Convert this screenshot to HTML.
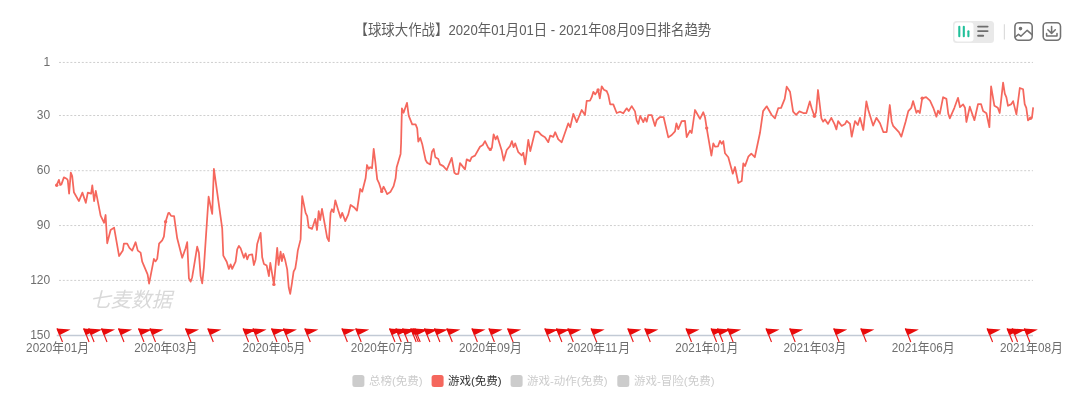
<!DOCTYPE html>
<html lang="zh-CN">
<head>
<meta charset="utf-8">
<title>排名趋势</title>
<style>
html,body{margin:0;padding:0;background:#fff;}
body{width:1080px;height:407px;overflow:hidden;font-family:"Liberation Sans","Noto Sans CJK SC",sans-serif;}
svg{display:block;will-change:transform;}
svg text{font-family:"Liberation Sans","Noto Sans CJK SC",sans-serif;white-space:pre;}
</style>
</head>
<body>
<svg width="1080" height="407" viewBox="0 0 1080 407" role="img" aria-label="排名趋势图表">
<rect width="1080" height="407" fill="#ffffff"/>
<line x1="59" y1="62.45" x2="1033.0" y2="62.45" stroke="#cfcfcf" stroke-width="1" stroke-dasharray="2 1.8"/>
<line x1="59" y1="115.5" x2="1033.0" y2="115.5" stroke="#cfcfcf" stroke-width="1" stroke-dasharray="2 1.8"/>
<line x1="59" y1="170.7" x2="1033.0" y2="170.7" stroke="#cfcfcf" stroke-width="1" stroke-dasharray="2 1.8"/>
<line x1="59" y1="225.55" x2="1033.0" y2="225.55" stroke="#cfcfcf" stroke-width="1" stroke-dasharray="2 1.8"/>
<line x1="59" y1="280.4" x2="1033.0" y2="280.4" stroke="#cfcfcf" stroke-width="1" stroke-dasharray="2 1.8"/>
<line x1="56.7" y1="335.5" x2="1033.0" y2="335.5" stroke="#c2cad5" stroke-width="1.3"/>
<g aria-label="1"><text transform="translate(43.48 65.95) scale(1 1.07)" font-size="12.0" fill="#6e6e6e">1</text></g>
<g aria-label="30"><text transform="translate(36.80 119.00) scale(1 1.07)" font-size="12.0" fill="#6e6e6e">30</text></g>
<g aria-label="60"><text transform="translate(36.80 174.20) scale(1 1.07)" font-size="12.0" fill="#6e6e6e">60</text></g>
<g aria-label="90"><text transform="translate(36.80 229.05) scale(1 1.07)" font-size="12.0" fill="#6e6e6e">90</text></g>
<g aria-label="120"><text transform="translate(30.13 283.90) scale(1 1.07)" font-size="12.0" fill="#6e6e6e">120</text></g>
<g aria-label="150"><text transform="translate(30.13 339.00) scale(1 1.07)" font-size="12.0" fill="#6e6e6e">150</text></g>
<g aria-label="2020年01月"><text transform="translate(26.10 351.50) scale(1 1.08)" font-size="11.75" fill="#6e6e6e">2020</text><text transform="translate(64.13 351.50) scale(1 1.08)" font-size="11.75" fill="#6e6e6e">01</text><text transform="translate(52.24 351.50) scale(1 1.08)" font-size="11.89" fill="#6e6e6e">年</text><text transform="translate(77.20 351.50) scale(1 1.08)" font-size="11.89" fill="#6e6e6e">月</text></g>
<g aria-label="2020年03月"><text transform="translate(134.30 351.50) scale(1 1.08)" font-size="11.75" fill="#6e6e6e">2020</text><text transform="translate(172.33 351.50) scale(1 1.08)" font-size="11.75" fill="#6e6e6e">03</text><text transform="translate(160.44 351.50) scale(1 1.08)" font-size="11.89" fill="#6e6e6e">年</text><text transform="translate(185.40 351.50) scale(1 1.08)" font-size="11.89" fill="#6e6e6e">月</text></g>
<g aria-label="2020年05月"><text transform="translate(242.50 351.50) scale(1 1.08)" font-size="11.75" fill="#6e6e6e">2020</text><text transform="translate(280.53 351.50) scale(1 1.08)" font-size="11.75" fill="#6e6e6e">05</text><text transform="translate(268.64 351.50) scale(1 1.08)" font-size="11.89" fill="#6e6e6e">年</text><text transform="translate(293.60 351.50) scale(1 1.08)" font-size="11.89" fill="#6e6e6e">月</text></g>
<g aria-label="2020年07月"><text transform="translate(350.70 351.50) scale(1 1.08)" font-size="11.75" fill="#6e6e6e">2020</text><text transform="translate(388.73 351.50) scale(1 1.08)" font-size="11.75" fill="#6e6e6e">07</text><text transform="translate(376.84 351.50) scale(1 1.08)" font-size="11.89" fill="#6e6e6e">年</text><text transform="translate(401.80 351.50) scale(1 1.08)" font-size="11.89" fill="#6e6e6e">月</text></g>
<g aria-label="2020年09月"><text transform="translate(458.90 351.50) scale(1 1.08)" font-size="11.75" fill="#6e6e6e">2020</text><text transform="translate(496.93 351.50) scale(1 1.08)" font-size="11.75" fill="#6e6e6e">09</text><text transform="translate(485.04 351.50) scale(1 1.08)" font-size="11.89" fill="#6e6e6e">年</text><text transform="translate(510.00 351.50) scale(1 1.08)" font-size="11.89" fill="#6e6e6e">月</text></g>
<g aria-label="2020年11月"><text transform="translate(567.10 351.50) scale(1 1.08)" font-size="11.75" fill="#6e6e6e">2020</text><text transform="translate(605.13 351.50) scale(1 1.08)" font-size="11.75" fill="#6e6e6e">11</text><text transform="translate(593.24 351.50) scale(1 1.08)" font-size="11.89" fill="#6e6e6e">年</text><text transform="translate(618.20 351.50) scale(1 1.08)" font-size="11.89" fill="#6e6e6e">月</text></g>
<g aria-label="2021年01月"><text transform="translate(675.30 351.50) scale(1 1.08)" font-size="11.75" fill="#6e6e6e">2021</text><text transform="translate(713.33 351.50) scale(1 1.08)" font-size="11.75" fill="#6e6e6e">01</text><text transform="translate(701.44 351.50) scale(1 1.08)" font-size="11.89" fill="#6e6e6e">年</text><text transform="translate(726.40 351.50) scale(1 1.08)" font-size="11.89" fill="#6e6e6e">月</text></g>
<g aria-label="2021年03月"><text transform="translate(783.50 351.50) scale(1 1.08)" font-size="11.75" fill="#6e6e6e">2021</text><text transform="translate(821.53 351.50) scale(1 1.08)" font-size="11.75" fill="#6e6e6e">03</text><text transform="translate(809.64 351.50) scale(1 1.08)" font-size="11.89" fill="#6e6e6e">年</text><text transform="translate(834.60 351.50) scale(1 1.08)" font-size="11.89" fill="#6e6e6e">月</text></g>
<g aria-label="2021年06月"><text transform="translate(891.70 351.50) scale(1 1.08)" font-size="11.75" fill="#6e6e6e">2021</text><text transform="translate(929.73 351.50) scale(1 1.08)" font-size="11.75" fill="#6e6e6e">06</text><text transform="translate(917.84 351.50) scale(1 1.08)" font-size="11.89" fill="#6e6e6e">年</text><text transform="translate(942.80 351.50) scale(1 1.08)" font-size="11.89" fill="#6e6e6e">月</text></g>
<g aria-label="2021年08月"><text transform="translate(999.90 351.50) scale(1 1.08)" font-size="11.75" fill="#6e6e6e">2021</text><text transform="translate(1037.93 351.50) scale(1 1.08)" font-size="11.75" fill="#6e6e6e">08</text><text transform="translate(1026.04 351.50) scale(1 1.08)" font-size="11.89" fill="#6e6e6e">年</text><text transform="translate(1051.00 351.50) scale(1 1.08)" font-size="11.89" fill="#6e6e6e">月</text></g>
<g aria-label="【球球大作战】2020年01月01日 - 2021年08月09日排名趋势"><text transform="translate(448.50 34.70) scale(1 1.08)" font-size="13.15" fill="#5e5e5e">2020</text><text transform="translate(491.15 34.70) scale(1 1.08)" font-size="13.15" fill="#5e5e5e">01</text><text transform="translate(519.18 34.70) scale(1 1.08)" font-size="13.15" fill="#5e5e5e">01</text><text transform="translate(547.21 34.70) scale(1 1.08)" font-size="13.15" fill="#5e5e5e"> - 2021</text><text transform="translate(601.55 34.70) scale(1 1.08)" font-size="13.15" fill="#5e5e5e">08</text><text transform="translate(629.57 34.70) scale(1 1.08)" font-size="13.15" fill="#5e5e5e">09</text><text transform="translate(448.30 34.70) scale(1 1.08)" font-size="13.4" fill="#5e5e5e" text-anchor="end">【球球大作战】</text><text transform="translate(477.75 34.70) scale(1 1.08)" font-size="13.4" fill="#5e5e5e">年</text><text transform="translate(505.78 34.70) scale(1 1.08)" font-size="13.4" fill="#5e5e5e">月</text><text transform="translate(533.81 34.70) scale(1 1.08)" font-size="13.4" fill="#5e5e5e">日</text><text transform="translate(588.15 34.70) scale(1 1.08)" font-size="13.4" fill="#5e5e5e">年</text><text transform="translate(616.18 34.70) scale(1 1.08)" font-size="13.4" fill="#5e5e5e">月</text><text transform="translate(644.20 34.70) scale(1 1.08)" font-size="13.4" fill="#5e5e5e">日</text><text transform="translate(657.60 34.70) scale(1 1.08)" font-size="13.4" fill="#5e5e5e">排名趋势</text></g>
<g aria-label="七麦数据"><text x="90" y="307" font-size="20.5" font-style="italic" fill="#d9d9d9">七麦数据</text></g>
<path d="M56.7 185.2 L58.9 179.8 L60.2 185 L61.4 184.4 L63.9 177.4 L66.7 178.7 L67.8 180.3 L69.1 193.7 L70.8 172.6 L72.2 176.1 L73.9 192.2 L78.9 201.1 L82.4 192.6 L85.8 202.8 L87.8 192.6 L91.1 193.7 L92.3 185.3 L94.1 201.1 L95.8 190.8 L100.6 215.6 L104.1 222.8 L105.6 215 L107.2 243.3 L110.6 230 L114.1 227.6 L119.1 256.1 L122.8 250.6 L123.9 243.7 L127.2 243.7 L129.4 247.8 L132.2 250.6 L135.6 242.2 L137.8 250.6 L140.6 252.6 L142.2 261.7 L147.6 274.4 L149.1 283.7 L153.9 258.9 L155.6 261.4 L157.2 258.9 L159.1 243.7 L162.2 240.3 L163.9 236.7 L165.6 221.7 L168.3 213 L169.1 212.8 L171.1 215.9 L174.1 216.1 L177.2 238.3 L182.2 257.8 L185.6 248.3 L187.2 242.2 L188.9 278.3 L190.6 281.7 L192.2 277.2 L197.2 246.7 L198.9 252.8 L200.6 276.1 L202.2 283.3 L203.9 267.2 L208.6 196.7 L212.2 213.9 L213.9 168.9 L222.2 228.3 L223.3 255.6 L226.7 261.7 L228.9 268.9 L230.6 264.4 L232.2 268.9 L235.6 261.7 L237.2 249.4 L238.9 245.9 L240.6 248.3 L243.9 257.8 L245.6 253.3 L247.2 259.4 L248.9 255 L252.2 254.4 L253.9 265 L255.6 259.4 L257.2 243.9 L260.6 232.8 L262.2 257.2 L263.9 263.9 L266.7 265.6 L268.9 276.1 L270.3 262.8 L273.9 284.4 L277.2 247.8 L278.6 265 L280.6 251.7 L281.9 261.1 L283.3 253.9 L285 259.4 L287.2 269.4 L288.7 287.2 L290.2 293.9 L292 282.8 L293.6 271.7 L295.3 268.3 L296.7 259.4 L297.8 250.6 L300.6 239.4 L301.3 217.2 L302.2 196.1 L305.6 212.8 L307.2 216.1 L308.7 227.4 L312 228.9 L315.3 218.9 L317 230 L318.7 211.1 L320.2 220 L322 208.9 L325 225.6 L327.2 237.8 L328.9 241.1 L330.6 212.8 L331.9 209.2 L333.6 212.2 L335.3 200.3 L338.3 210.6 L340.6 217.8 L342.2 212.8 L345.3 221.1 L348.3 214.4 L350.6 205 L353.9 207.2 L357 210.6 L360.2 188.9 L362.2 191.7 L365.6 178.3 L367 165 L368.7 168.9 L370.2 167.2 L372 168.3 L373.7 148.9 L375.3 161.7 L377.2 179.4 L378.9 182.8 L381.7 191.4 L383.6 186.7 L387.2 194.1 L390.6 191.7 L393.6 186.1 L395.6 178.3 L396.7 167.2 L400.6 153.9 L401.1 142.8 L401.9 108.3 L403.6 112.8 L407 102.8 L408.7 115.6 L412.2 124.4 L415.6 124.4 L417.2 128.3 L418.3 141.7 L420.2 137.8 L422.2 143.9 L425.6 160 L427.2 162.8 L430.2 164.4 L432 151.7 L433.7 148.9 L435.3 157.2 L438.3 158.9 L440 164.4 L443.3 166.1 L446.7 170 L451.7 157.8 L454.4 172.8 L456.1 174.1 L458.3 173.9 L460 163.1 L465 169.4 L466.7 159.4 L470 161.1 L471.7 157.2 L475 155.6 L480 146.7 L482.8 145 L485 141.1 L488.3 147.8 L490.3 149.4 L491.9 147.8 L493.6 134.4 L495.6 139.4 L497.2 136.1 L501.7 150.6 L503.7 160.6 L506.7 150 L510 146.1 L511.9 141.1 L513.6 147.2 L515.2 143.3 L518.3 152.2 L521.7 155.3 L523.3 152.8 L525.2 164.4 L528.3 139.8 L530.3 151.1 L535 131.7 L538.3 131.7 L541.7 135.3 L545 137.2 L548.3 142.2 L550.2 135.6 L553.3 136.9 L555.2 132.2 L558.3 139.4 L561.7 142.2 L568.3 123.3 L570.2 127.2 L573.3 113.9 L576.7 122.2 L581.7 110 L585 115 L586.7 100.8 L590 100.6 L591.7 97.2 L593.3 91.9 L595.3 94.4 L598.1 90 L599.8 98.3 L601.7 86.3 L603.9 89.7 L606.7 91.1 L608.3 95 L610.2 104.4 L613.3 104.4 L616.7 113 L620 111.7 L623.3 113.3 L626.7 108.3 L628.7 111.1 L631.7 106.1 L635 111.4 L636.7 120.6 L638.3 123.9 L640.2 115.9 L643.3 122.2 L645 117.8 L646.7 121.7 L648.3 115 L651.7 115 L655 125.9 L656.7 120 L660 117 L663.6 117 L668.3 137.4 L671.7 135 L675 131.4 L676.4 123.3 L678.3 129.2 L681.7 121.1 L685 120.8 L686.7 137.2 L690 130.6 L691.7 133 L695 110 L700 118.9 L703.3 112.2 L705 117.2 L706.7 128.1 L711.4 155.6 L713.3 143.3 L715 146.7 L718 146.3 L720 140.8 L721.7 143.9 L723.3 141.1 L725 153.3 L728.3 157.2 L732.8 173.7 L735 167 L738.3 183 L741.7 181.1 L743.3 163.3 L745 166.1 L748.3 156.7 L751.3 153.7 L754.8 157.2 L760 132.8 L763.1 111.1 L766.7 106.3 L771.7 115 L775 118.3 L778.3 108.1 L781.1 107.8 L784.7 98.9 L786.7 86.7 L790 91.7 L793.1 111.7 L796.1 114.8 L799.4 111.4 L803.3 113 L806.4 113 L809.8 101.4 L811.7 108.3 L814.4 116.3 L816.1 112.2 L818 90 L821.4 118.3 L823.1 121.7 L825 119.4 L828 123.9 L831.3 117.8 L834.4 123.9 L836.4 129.4 L838.1 121.1 L841.7 125.9 L845 124.1 L846.7 120.8 L850 123.9 L851.7 136.7 L855 121.1 L857.8 125 L860 117.8 L863.3 130 L866.4 101.4 L868.3 110 L873.1 125.6 L876.4 117.8 L880 123.3 L883.3 132 L886.7 132 L889.8 105 L891.7 121.7 L893.1 125.8 L898.9 132.2 L901.3 136.7 L905.6 121.7 L908.3 111.1 L911.3 107.8 L913.1 101.1 L916.4 112.8 L918 110.6 L919.8 113.1 L922.2 98.3 L926.1 97.2 L930 100.6 L933.3 107.8 L936.4 116.7 L938 110.6 L939.8 113.9 L943.1 97.2 L946.4 98.9 L948.3 113.9 L949.8 118.3 L954.4 107.8 L958 97.8 L960 107.2 L963.1 104.4 L965 107.8 L966.4 122 L969.8 106.7 L974.4 120.2 L978 104.2 L981.1 104.2 L983.1 111.1 L986.4 113.3 L989.4 127.2 L991.1 86.3 L994.4 105.8 L997.8 107.8 L999.7 113 L1003.1 82.7 L1004.8 93.6 L1006.4 97.4 L1008 105.8 L1011.3 104.1 L1013.1 101.1 L1016.4 114.4 L1019.8 88 L1023.1 89.3 L1024.7 104.1 L1026.3 107.8 L1028 120.4 L1030.6 118.2 L1032 117.4 L1033.1 108" fill="none" stroke="#f5675d" stroke-width="1.75" stroke-linejoin="round" stroke-linecap="round"/>
<circle cx="56.7" cy="185.2" r="1.7" fill="#f5675d"/>
<circle cx="165.6" cy="221.7" r="1.7" fill="#f5675d"/>
<circle cx="273.9" cy="284.4" r="1.7" fill="#f5675d"/>
<circle cx="381.7" cy="191.4" r="1.7" fill="#f5675d"/>
<circle cx="490.3" cy="149.4" r="1.7" fill="#f5675d"/>
<circle cx="598.1" cy="90.0" r="1.7" fill="#f5675d"/>
<circle cx="706.7" cy="128.1" r="1.7" fill="#f5675d"/>
<circle cx="814.4" cy="116.3" r="1.7" fill="#f5675d"/>
<circle cx="922.2" cy="98.3" r="1.7" fill="#f5675d"/>
<circle cx="1030.6" cy="118.2" r="1.7" fill="#f5675d"/>
<g aria-label="flags"><path d="M56.6 328.4l14 1.2l-10.8 5.4zM83.2 328.4l14 1.2l-10.8 5.4zM88.2 328.4l14 1.2l-10.8 5.4zM101.1 328.4l14 1.2l-10.8 5.4zM118.1 328.4l14 1.2l-10.8 5.4zM138.1 328.4l14 1.2l-10.8 5.4zM149.6 328.4l14 1.2l-10.8 5.4zM185.1 328.4l14 1.2l-10.8 5.4zM207.4 328.4l14 1.2l-10.8 5.4zM242.7 328.4l14 1.2l-10.8 5.4zM252.6 328.4l14 1.2l-10.8 5.4zM271.1 328.4l14 1.2l-10.8 5.4zM283.0 328.4l14 1.2l-10.8 5.4zM304.4 328.4l14 1.2l-10.8 5.4zM341.5 328.4l14 1.2l-10.8 5.4zM355.3 328.4l14 1.2l-10.8 5.4zM389.1 328.4l14 1.2l-10.8 5.4zM395.4 328.4l14 1.2l-10.8 5.4zM402.1 328.4l14 1.2l-10.8 5.4zM410.3 328.4l14 1.2l-10.8 5.4zM412.5 328.4l14 1.2l-10.8 5.4zM414.3 328.4l14 1.2l-10.8 5.4zM424.0 328.4l14 1.2l-10.8 5.4zM434.0 328.4l14 1.2l-10.8 5.4zM446.4 328.4l14 1.2l-10.8 5.4zM471.5 328.4l14 1.2l-10.8 5.4zM488.5 328.4l14 1.2l-10.8 5.4zM507.2 328.4l14 1.2l-10.8 5.4zM544.4 328.4l14 1.2l-10.8 5.4zM556.0 328.4l14 1.2l-10.8 5.4zM567.4 328.4l14 1.2l-10.8 5.4zM590.7 328.4l14 1.2l-10.8 5.4zM627.4 328.4l14 1.2l-10.8 5.4zM644.4 328.4l14 1.2l-10.8 5.4zM685.6 328.4l14 1.2l-10.8 5.4zM710.7 328.4l14 1.2l-10.8 5.4zM717.0 328.4l14 1.2l-10.8 5.4zM727.2 328.4l14 1.2l-10.8 5.4zM765.6 328.4l14 1.2l-10.8 5.4zM789.3 328.4l14 1.2l-10.8 5.4zM833.3 328.4l14 1.2l-10.8 5.4zM860.4 328.4l14 1.2l-10.8 5.4zM904.9 328.4l14 1.2l-10.8 5.4zM986.7 328.4l14 1.2l-10.8 5.4zM1006.7 328.4l14 1.2l-10.8 5.4zM1011.7 328.4l14 1.2l-10.8 5.4zM1023.9 328.4l14 1.2l-10.8 5.4z" fill="#e80b0b"/><path d="M57.1 328.4l2.5 6.3M83.7 328.4l2.5 6.3M88.7 328.4l2.5 6.3M101.6 328.4l2.5 6.3M118.6 328.4l2.5 6.3M138.6 328.4l2.5 6.3M150.1 328.4l2.5 6.3M185.6 328.4l2.5 6.3M207.9 328.4l2.5 6.3M243.2 328.4l2.5 6.3M253.1 328.4l2.5 6.3M271.6 328.4l2.5 6.3M283.5 328.4l2.5 6.3M304.9 328.4l2.5 6.3M342.0 328.4l2.5 6.3M355.8 328.4l2.5 6.3M389.6 328.4l2.5 6.3M395.9 328.4l2.5 6.3M402.6 328.4l2.5 6.3M410.8 328.4l2.5 6.3M413.0 328.4l2.5 6.3M414.8 328.4l2.5 6.3M424.5 328.4l2.5 6.3M434.5 328.4l2.5 6.3M446.9 328.4l2.5 6.3M472.0 328.4l2.5 6.3M489.0 328.4l2.5 6.3M507.7 328.4l2.5 6.3M544.9 328.4l2.5 6.3M556.5 328.4l2.5 6.3M567.9 328.4l2.5 6.3M591.2 328.4l2.5 6.3M627.9 328.4l2.5 6.3M644.9 328.4l2.5 6.3M686.1 328.4l2.5 6.3M711.2 328.4l2.5 6.3M717.5 328.4l2.5 6.3M727.7 328.4l2.5 6.3M766.1 328.4l2.5 6.3M789.8 328.4l2.5 6.3M833.8 328.4l2.5 6.3M860.9 328.4l2.5 6.3M905.4 328.4l2.5 6.3M987.2 328.4l2.5 6.3M1007.2 328.4l2.5 6.3M1012.2 328.4l2.5 6.3M1024.4 328.4l2.5 6.3" stroke="#e80b0b" stroke-width="1.4" fill="none"/><path d="M59.4 334.2l3.1 7.8M86.0 334.2l3.1 7.8M91.0 334.2l3.1 7.8M103.9 334.2l3.1 7.8M120.9 334.2l3.1 7.8M140.9 334.2l3.1 7.8M152.4 334.2l3.1 7.8M187.9 334.2l3.1 7.8M210.2 334.2l3.1 7.8M245.5 334.2l3.1 7.8M255.4 334.2l3.1 7.8M273.9 334.2l3.1 7.8M285.8 334.2l3.1 7.8M307.2 334.2l3.1 7.8M344.3 334.2l3.1 7.8M358.1 334.2l3.1 7.8M391.9 334.2l3.1 7.8M398.2 334.2l3.1 7.8M404.9 334.2l3.1 7.8M413.1 334.2l3.1 7.8M415.3 334.2l3.1 7.8M417.1 334.2l3.1 7.8M426.8 334.2l3.1 7.8M436.8 334.2l3.1 7.8M449.2 334.2l3.1 7.8M474.3 334.2l3.1 7.8M491.3 334.2l3.1 7.8M510.0 334.2l3.1 7.8M547.2 334.2l3.1 7.8M558.8 334.2l3.1 7.8M570.2 334.2l3.1 7.8M593.5 334.2l3.1 7.8M630.2 334.2l3.1 7.8M647.2 334.2l3.1 7.8M688.4 334.2l3.1 7.8M713.5 334.2l3.1 7.8M719.8 334.2l3.1 7.8M730.0 334.2l3.1 7.8M768.4 334.2l3.1 7.8M792.1 334.2l3.1 7.8M836.1 334.2l3.1 7.8M863.2 334.2l3.1 7.8M907.7 334.2l3.1 7.8M989.5 334.2l3.1 7.8M1009.5 334.2l3.1 7.8M1014.5 334.2l3.1 7.8M1026.7 334.2l3.1 7.8" stroke="#ea1c1c" stroke-width="1.15" fill="none"/></g>
<rect x="352.4" y="375" width="12" height="12" rx="2.5" fill="#cccccc"/>
<g aria-label="总榜(免费)"><text x="369.00" y="384.70" font-size="11.5" fill="#cccccc">总榜(免费)</text></g>
<rect x="431.6" y="375" width="12" height="12" rx="2.5" fill="#f5675d"/>
<g aria-label="游戏(免费)"><text x="448.00" y="384.70" font-size="11.5" fill="#333333">游戏(免费)</text></g>
<rect x="510.6" y="375" width="12" height="12" rx="2.5" fill="#cccccc"/>
<g aria-label="游戏-动作(免费)"><text x="527.00" y="384.70" font-size="11.5" fill="#cccccc">游戏-动作(免费)</text></g>
<rect x="617.3" y="375" width="12" height="12" rx="2.5" fill="#cccccc"/>
<g aria-label="游戏-冒险(免费)"><text x="634.00" y="384.70" font-size="11.5" fill="#cccccc">游戏-冒险(免费)</text></g>
<rect x="953" y="21" width="41" height="22" rx="3.5" fill="#e9e9e9"/>
<rect x="954.5" y="22.5" width="19" height="19" rx="3" fill="#ffffff"/>
<g stroke="#20c09a" stroke-width="2.1" stroke-linecap="round"><line x1="959.3" y1="26.8" x2="959.3" y2="36.2"/><line x1="963.8" y1="26.8" x2="963.8" y2="36.2"/><line x1="968.4" y1="31.3" x2="968.4" y2="36.2"/></g>
<g stroke="#6e6e6e" stroke-width="1.9" stroke-linecap="round"><line x1="978.1" y1="26.6" x2="987.6" y2="26.6"/><line x1="978.1" y1="31.1" x2="987.6" y2="31.1"/><line x1="978.1" y1="35.8" x2="983.2" y2="35.8"/></g>
<line x1="1004.4" y1="24.3" x2="1004.4" y2="39.6" stroke="#dcdcdc" stroke-width="1.2"/>
<g fill="none" stroke="#727272" stroke-width="1.55" stroke-linejoin="round" stroke-linecap="round"><rect x="1014.9" y="22.8" width="17.3" height="17.4" rx="3.6"/><path d="M1015.2 37L1018.5 34.3L1020.9 36.2L1027.2 30.3L1032 34.6"/><circle cx="1020.5" cy="28.6" r="1.05" fill="#727272"/></g>
<g fill="none" stroke="#727272" stroke-width="1.55" stroke-linejoin="round" stroke-linecap="round"><rect x="1043.2" y="22.8" width="17.3" height="17.4" rx="3.6"/><path d="M1051.6 26.4V33.4M1047.9 29.8L1051.6 33.5L1055.3 29.8M1046.6 33.6V36H1057V33.6"/></g>
</svg>
</body>
</html>
